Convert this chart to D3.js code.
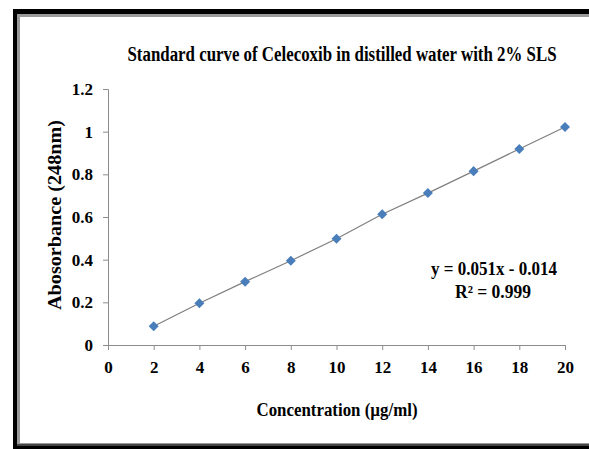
<!DOCTYPE html>
<html><head><meta charset="utf-8">
<script src="https://cdn.jsdelivr.net/npm/d3@7/dist/d3.min.js"></script>
<style>body{margin:0;background:#fff}svg{display:block}text{font-family:"Liberation Serif","Times New Roman",serif;font-weight:bold;fill:#000}</style>
</head><body><svg id="c" width="589" height="449"></svg>
<script>
const concentrations = [2,4,6,8,10,12,14,16,18,20];
const absorbance = [0.088,0.196,0.297,0.395,0.498,0.613,0.712,0.815,0.919,1.022];
const xTicks = [0,2,4,6,8,10,12,14,16,18,20];
const yTicks = [0,0.2,0.4,0.6,0.8,1,1.2];
const titleText = "Standard curve of Celecoxib in distilled water with 2% SLS";
const xTitle = "Concentration (\u00b5g/ml)";
const yTitle = "Abosorbance (248nm)";
const eqLines = ["y = 0.051x - 0.014","R\u00b2 = 0.999"];

const svg = d3.select("#c");
// frame
svg.append("rect").attr("x",13).attr("y",9).attr("width",600).attr("height",440).attr("fill","#000");
svg.append("rect").attr("x",17).attr("y",14).attr("width",600).attr("height",432).attr("fill","#9a9a9a");
svg.append("rect").attr("x",20).attr("y",17).attr("width",600).attr("height",426).attr("fill","#fff");
svg.append("line").attr("x1",17).attr("x2",600).attr("y1",445).attr("y2",445).attr("stroke","#444").attr("stroke-width",2);

const x = d3.scaleLinear().domain([0,20]).range([108,565]);
const y = d3.scaleLinear().domain([0,1.2]).range([345,89]);

const gx = svg.append("g").attr("transform","translate(0,345)")
  .call(d3.axisBottom(x).tickValues(xTicks).tickSize(5).tickPadding(11).tickFormat(d3.format("d")));
const gy = svg.append("g").attr("transform","translate(108,0)")
  .call(d3.axisLeft(y).tickValues(yTicks).tickSize(5).tickPadding(10).tickFormat(d=>String(d)));
[gx,gy].forEach(g=>{
  g.select(".domain").attr("stroke","#8c8c8c");
  g.selectAll(".tick line").attr("stroke","#8c8c8c");
  g.selectAll("text").attr("font-size",17).attr("font-family","Liberation Serif").attr("font-weight","bold").attr("fill","#000");
});

const pts = concentrations.map((c,i)=>[c,absorbance[i]]);
svg.append("path").datum(pts)
  .attr("d",d3.line().x(d=>x(d[0])).y(d=>y(d[1])))
  .attr("fill","none").attr("stroke","#7f7f7f").attr("stroke-width",1.2);
svg.selectAll(".pt").data(pts).enter().append("path")
  .attr("transform",d=>`translate(${x(d[0])},${y(d[1])})`)
  .attr("d",d3.symbol(d3.symbolDiamond2,64)())
  .attr("fill","#4a7ebb");

function txt(t,xp,yp,size,len,rot){
  const e = svg.append("text").attr("text-anchor","middle").attr("font-size",size)
    .attr("transform",`translate(${xp},${yp})${rot?" rotate(-90)":""}`).text(t);
  if(len) e.attr("textLength",len).attr("lengthAdjust","spacingAndGlyphs");
  return e;
}
txt(titleText,342,61,20,429);
txt(xTitle,337,416,18,161);
txt(yTitle,61,215,18,190,true);
txt(eqLines[0],494,275,18,126);
txt(eqLines[1],493,298,18,76);
</script></body></html>
